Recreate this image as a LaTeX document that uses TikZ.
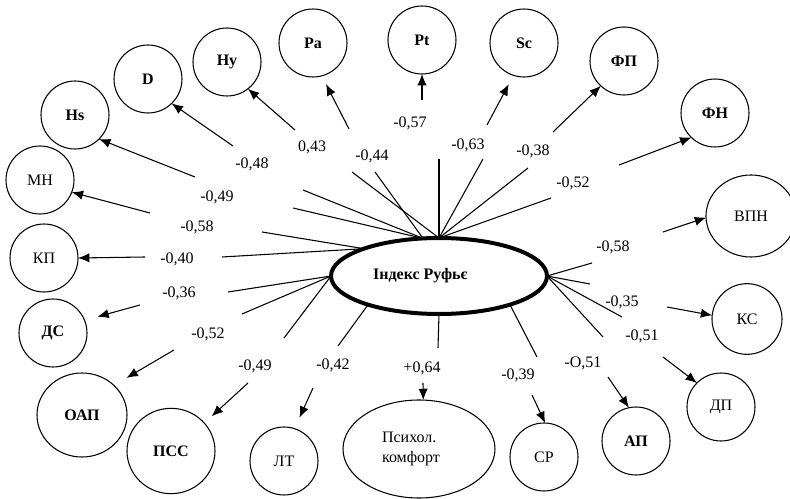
\documentclass[tikz,border=0pt]{standalone}
\usepackage{fontspec}
\setmainfont{Liberation Serif}
\usetikzlibrary{shapes.geometric,arrows.meta}
\begin{document}
\begin{tikzpicture}[x=0.75pt,y=-0.75pt,
  font=\fontsize{12}{15}\selectfont,
  circ/.style={draw, ellipse, line width=0.8pt, inner sep=0pt, outer sep=0pt,
               minimum width=51pt, minimum height=51pt},
  bcirc/.style={circ, font=\bfseries\fontsize{12}{15}\selectfont},
  ln/.style={line width=0.8pt},
  arr/.style={line width=0.8pt, -{Latex[length=8.5pt,width=7pt]}},
  lab/.style={inner sep=0pt}]
\useasboundingbox (0,0) rectangle (790,499);

% central node
\node[draw, ellipse, line width=3pt, inner sep=0pt, outer sep=0pt,
      minimum width=162pt, minimum height=57pt,
      font=\bfseries\fontsize{12}{15}\selectfont] (c) at (439,276) {Індекс Руфьє\hspace*{28pt}};

% outer circles
\node[bcirc] (Hs) at (75,115) {Hs};
\node[bcirc] (D) at (148,79) {D};
\node[bcirc] (Hy) at (227,62) {Hy};
\node[bcirc] (Pa) at (313,43) {Pa};
\node[bcirc] (Pt) at (422,40) {Pt};
\node[bcirc] (Sc) at (524,43) {Sc};
\node[bcirc] (FP) at (624,61) {ФП};
\node[bcirc] (FN) at (715,113) {ФН};
\node[circ, minimum width=67.5pt, minimum height=61.5pt] (VPN) at (751,216) {ВПН};
\node[circ, minimum width=52.5pt, minimum height=53pt] (KS) at (747,319) {КС};
\node[circ] (DP) at (721,407) {ДП};
\node[bcirc] (AP) at (636,441) {АП};
\node[circ] (SR) at (544,457) {СР};
\node[circ, minimum width=114pt, minimum height=73.5pt, align=left] (PK) at (419,449) {Психол.\\комфорт\hspace*{12pt}};
\node[circ] (LT) at (284,461) {ЛТ};
\node[bcirc, minimum width=66pt, minimum height=64pt] (PSS) at (171,451) {ПСС};
\node[bcirc, minimum width=67.5pt, minimum height=63pt] (OAP) at (82,415) {ОАП};
\node[bcirc] (DS) at (53,333) {ДС};
\node[circ] (KP) at (44,258) {КП};
\node[circ] (MN) at (40,180) {МН};

% labels
\node[lab] (lD) at (252,164) {-0,48};
\node[lab] (lHy) at (312,147) {0,43};
\node[lab] (lPa) at (372,156) {-0,44};
\node[lab] (lPt) at (410,123) {-0,57};
\node[lab] (lSc) at (468,145) {-0,63};
\node[lab] (lFP) at (533,151) {-0,38};
\node[lab] (lFN) at (573,183) {-0,52};
\node[lab] (lHs) at (217,197) {-0,49};
\node[lab] (lMN) at (197,227) {-0,58};
\node[lab] (lKP) at (177,259) {-0,40};
\node[lab] (lDS) at (179,293) {-0,36};
\node[lab] (lOAP) at (208,334) {-0,52};
\node[lab] (lPSS) at (255,366) {-0,49};
\node[lab] (lLT) at (333,365) {-0,42};
\node[lab] (lPK) at (422,368) {+0,64};
\node[lab] (lSR) at (518,375) {-0,39};
\node[lab] (lAP) at (583,363) {-O,51};
\node[lab] (lDP) at (642,336) {-0,51};
\node[lab] (lKS) at (622,302) {-0,35};
\node[lab] (lVPN) at (613,247) {-0,58};

% line ends near labels
\coordinate (eD) at (303,190);
\coordinate (eHs) at (293,208);
\coordinate (eMN) at (262,232);
\coordinate (eKP) at (222,257);
\coordinate (eHy) at (352,172);
\coordinate (ePa) at (375,172);
\coordinate (ePt) at (439,159);
\coordinate (eSc) at (483,159);
\coordinate (eFP) at (528,168);
\coordinate (eFN) at (551,198);
\coordinate (eVPN) at (592,263);
\coordinate (eKS) at (590,284);
\coordinate (eDP) at (622,317);
\coordinate (eAP) at (603,337);
\coordinate (eSR) at (537,357);
\coordinate (ePK) at (438,348);
\coordinate (eLT) at (338,346);
\coordinate (ePSS) at (284,338);
\coordinate (eOAP) at (242,314);
\coordinate (eDS) at (228,292);

% arrow starts
\coordinate (sHs) at (195,177);
\coordinate (sMN) at (150,213);
\coordinate (sD) at (233,146);
\coordinate (sHy) at (295,130);
\coordinate (sPa) at (349,129);
\coordinate (sPt) at (422,100);
\coordinate (sSc) at (487,125);
\coordinate (sFP) at (553,132);
\coordinate (sFN) at (619,165);
\coordinate (sVPN) at (663,232);
\coordinate (sKS) at (667,307);
\coordinate (sDP) at (663,357);
\coordinate (sAP) at (608,377);
\coordinate (sSR) at (532,395);
\coordinate (sPK) at (423,383);
\coordinate (sLT) at (313,388);
\coordinate (sPSS) at (248,383);
\coordinate (sOAP) at (174,350);
\coordinate (sDS) at (140,305);
\coordinate (sKP) at (145,257);

% lines from the central node
\draw[ln] (c.113) -- (eD);
\draw[ln] (c.113) -- (eHs);
\draw[ln] (c.160) -- (eMN);
\draw[ln] (c.160) -- (eKP);
\draw[ln] (c.north) -- (eHy);
\draw[ln] (c.113) -- (ePa);
\draw[ln] (c.north) -- (ePt);
\draw[ln] (c.north) -- (eSc);
\draw[ln] (c.north) -- (eFP);
\draw[ln] (c.north) -- (eFN);
\draw[ln] (c.east) -- (eVPN);
\draw[ln] (c.east) -- (eKS);
\draw[ln] (c.east) -- (eDP);
\draw[ln] (c.east) -- (eAP);
\draw[ln] (c.338) -- (eSR);
\draw[ln] (c.south) -- (ePK);
\draw[ln] (c.202) -- (eLT);
\draw[ln] (c.west) -- (ePSS);
\draw[ln] (c.west) -- (eOAP);
\draw[ln] (c.west) -- (eDS);

% arrows to the outer circles
\draw[arr] (sHs) -- (Hs.315);
\draw[arr] (sMN) -- (MN.339);
\draw[arr] (sD) -- (D.314);
\draw[arr] (sHy) -- (Hy.308);
\draw[arr, shorten >=7pt] (sPa) -- (Pa.285);
\draw[arr] (sPt) -- (Pt.270);
\draw[arr, shorten >=7.5pt] (sSc) -- (Sc.252);
\draw[arr] (sFP) -- (FP.227);
\draw[arr] (sFN) -- (FN.226);
\draw[arr] (sVPN) -- (VPN.182);
\draw[arr] (sKS) -- (KS.174);
\draw[arr] (sDP) -- (DP.135);
\draw[arr] (sAP) -- (AP.102);
\draw[arr] (sSR) -- (SR.88);
\draw[arr] (sPK) -- (PK.85);
\draw[arr, shorten >=9pt] (sLT) -- (LT.72);
\draw[arr, shorten >=7.5pt] (sPSS) -- (PSS.40);
\draw[arr, shorten >=11pt] (sOAP) -- (OAP.43);
\draw[arr, shorten >=10pt] (sDS) -- (DS.22);
\draw[arr] (sKP) -- (KP.0);
\end{tikzpicture}
\end{document}
